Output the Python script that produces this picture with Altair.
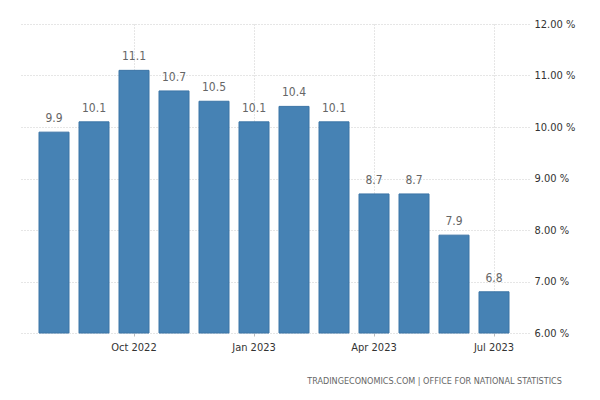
import altair as alt
import pandas as pd

months = ["Aug 2022", "Sep 2022", "Oct 2022", "Nov 2022", "Dec 2022", "Jan 2023",
          "Feb 2023", "Mar 2023", "Apr 2023", "May 2023", "Jun 2023", "Jul 2023"]
values = [9.9, 10.1, 11.1, 10.7, 10.5, 10.1, 10.4, 10.1, 8.7, 8.7, 7.9, 6.8]
tick_months = ["Oct 2022", "Jan 2023", "Apr 2023", "Jul 2023"]
y_ticks = [6, 7, 8, 9, 10, 11, 12]
source = "TRADINGECONOMICS.COM  |  OFFICE FOR NATIONAL STATISTICS"

df = pd.DataFrame({"month": months, "value": values})
FONT = "'Liberation Sans Narrow', 'DejaVu Sans Condensed', sans-serif"

x = alt.X("month:N", sort=months, title=None,
          scale=alt.Scale(paddingInner=0.25, paddingOuter=0.5),
          axis=alt.Axis(values=tick_months, labelAngle=0, grid=True, bandPosition=0.5,
                        gridColor="#cccccc", gridDash=[1, 2], domain=False,
                        ticks=True, tickSize=3, tickColor="#bbbbbb",
                        labelColor="#333333", labelFontSize=11, labelFont=FONT,
                        labelPadding=5))
y = alt.Y("value:Q", title=None,
          scale=alt.Scale(domain=[6, 12], zero=False, nice=False),
          axis=alt.Axis(orient="right", values=y_ticks, grid=True, gridColor="#cccccc",
                        gridDash=[1, 2], domain=False, ticks=False, labelPadding=5,
                        labelExpr="format(datum.value, '.2f') + ' %'",
                        labelColor="#333333", labelFontSize=11, labelFont=FONT))

bars = alt.Chart(df).mark_bar(color="#4682b4", stroke="#3b74a6", strokeWidth=1).encode(
    x=x, y=y, y2=alt.datum(6))
labels = alt.Chart(df).mark_text(baseline="bottom", dy=-7, color="#666666",
                                 fontSize=12, font=FONT).encode(
    x=alt.X("month:N", sort=months), y="value:Q", text=alt.Text("value:Q", format=".1f"))

chart = alt.layer(bars, labels).properties(
    width=510, height=309,
    padding={"left": 11, "top": 10, "right": 5, "bottom": 2},
    title=alt.TitleParams(source, orient="bottom", anchor="end", fontSize=9,
                          color="#666666", font=FONT, fontWeight="normal", dx=-13, offset=25)
).configure_view(stroke=None)

chart.save("out.html", embed_options={"renderer": "svg", "actions": False})
